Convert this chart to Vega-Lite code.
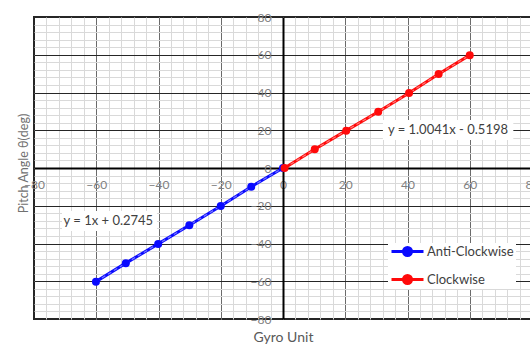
{
  "$schema": "https://vega.github.io/schema/vega-lite/v6.json",
  "width": 498,
  "height": 302,
  "autosize": {"type": "none"},
  "padding": {"left": 34, "top": 17, "right": 0, "bottom": 28},
  "background": "white",
  "config": {
    "font": "Lato",
    "view": {"stroke": "#262626", "strokeWidth": 2}
  },
  "datasets": {
    "pts": [
      {"gyro": -60.1, "pitch": -60.2, "series": "Anti-Clockwise"},
      {"gyro": -50.5, "pitch": -50.4, "series": "Anti-Clockwise"},
      {"gyro": -40.1, "pitch": -40.2, "series": "Anti-Clockwise"},
      {"gyro": -30.1, "pitch": -30.3, "series": "Anti-Clockwise"},
      {"gyro": -20.0, "pitch": -20.1, "series": "Anti-Clockwise"},
      {"gyro": -10.2, "pitch": -9.9, "series": "Anti-Clockwise"},
      {"gyro": 0, "pitch": 0, "series": "Anti-Clockwise"},
      {"gyro": 0.5, "pitch": 0, "series": "Clockwise"},
      {"gyro": 10.2, "pitch": 9.9, "series": "Clockwise"},
      {"gyro": 20.3, "pitch": 19.8, "series": "Clockwise"},
      {"gyro": 30.6, "pitch": 29.8, "series": "Clockwise"},
      {"gyro": 40.5, "pitch": 39.7, "series": "Clockwise"},
      {"gyro": 50.0, "pitch": 49.8, "series": "Clockwise"},
      {"gyro": 60.0, "pitch": 59.8, "series": "Clockwise"}
    ],
    "eq": [
      {"label": "y = 1.0041x - 0.5198", "tx": 53.0, "ty": 20.1, "bx1": 32.1, "bx2": 74.0, "by1": 25.4, "by2": 14.8},
      {"label": "y = 1x + 0.2745", "tx": -56.1, "ty": -28.1, "bx1": -71.0, "bx2": -40.5, "by1": -22.8, "by2": -33.4}
    ]
  },
  "layer": [
    {
      "data": {"name": "pts"},
      "mark": {"type": "point", "opacity": 0},
      "encoding": {
        "x": {"field": "gyro", "type": "quantitative", "scale": {"domain": [-80, 80], "nice": false, "zero": false},
          "axis": {"orient": "bottom", "title": null, "labels": false, "ticks": false, "domain": false, "grid": true,
            "gridColor": "#d9d9d9", "gridWidth": 1,
            "values": [-76,-72,-68,-64,-60,-56,-52,-48,-44,-40,-36,-32,-28,-24,-20,-16,-12,-8,-4,0,4,8,12,16,20,24,28,32,36,40,44,48,52,56,60,64,68,72,76]}},
        "y": {"field": "pitch", "type": "quantitative", "scale": {"domain": [-80, 80], "nice": false, "zero": false},
          "axis": {"orient": "left", "title": null, "labels": false, "ticks": false, "domain": false, "grid": true,
            "gridColor": "#d9d9d9", "gridWidth": 1,
            "values": [-76,-72,-68,-64,-60,-56,-52,-48,-44,-40,-36,-32,-28,-24,-20,-16,-12,-8,-4,0,4,8,12,16,20,24,28,32,36,40,44,48,52,56,60,64,68,72,76]}}
      }
    },
    {
      "data": {"name": "pts"},
      "mark": {"type": "point", "opacity": 0},
      "encoding": {
        "x": {"field": "gyro", "type": "quantitative", "scale": {"domain": [-80, 80], "nice": false, "zero": false},
          "axis": {"orient": "bottom", "title": null, "labels": false, "ticks": false, "domain": false, "grid": true,
            "gridColor": "#6b6b6b", "gridWidth": 1, "values": [-60, -40, -20, 20, 40, 60]}},
        "y": {"field": "pitch", "type": "quantitative", "scale": {"domain": [-80, 80], "nice": false, "zero": false},
          "axis": {"orient": "left", "title": null, "labels": false, "ticks": false, "domain": false, "grid": true,
            "gridColor": "#262626", "gridWidth": 1, "values": [-60, -40, -20, 20, 40, 60]}}
      }
    },
    {
      "data": {"name": "pts"},
      "mark": {"type": "line", "strokeWidth": 3},
      "encoding": {
        "x": {"field": "gyro", "type": "quantitative", "scale": {"domain": [-80, 80], "nice": false, "zero": false},
          "axis": {"orient": "bottom", "offset": -151, "title": "Gyro Unit", "values": [-80, -60, -40, -20, 0, 20, 40, 60, 80],
            "grid": false, "ticks": false, "tickSize": 0, "labelPadding": 11, "labelColor": "#7f7f7f", "labelFontSize": 12,
            "labelOverlap": false, "labelFlush": false, "labelBound": false,
            "domain": true, "domainColor": "#000000", "domainWidth": 2,
            "titleY": 162, "titleFontSize": 14, "titleFontWeight": "normal", "titleColor": "#595959"}},
        "y": {"field": "pitch", "type": "quantitative", "scale": {"domain": [-80, 80], "nice": false, "zero": false},
          "axis": {"orient": "left", "offset": -249, "title": "Pitch Angle θ(deg)", "values": [-80, -60, -40, -20, 0, 20, 40, 60, 80],
            "grid": false, "ticks": false, "tickSize": 0, "labelPadding": 12, "labelColor": "#7f7f7f", "labelFontSize": 12,
            "labelOverlap": false, "labelFlush": false, "labelBound": false,
            "domain": true, "domainColor": "#000000", "domainWidth": 2,
            "titleX": -253, "titleY": 146, "titleFontSize": 12.5, "titleFontWeight": "normal", "titleColor": "#707070"}},
        "color": {"field": "series", "type": "nominal",
          "scale": {"domain": ["Anti-Clockwise", "Clockwise"], "range": ["#0a0aff", "#ff0a0a"]},
          "legend": {"title": null, "orient": "none", "legendX": 354, "legendY": 226,
            "fillColor": "white", "padding": 2, "rowPadding": 14, "clipHeight": 13,
            "symbolType": "M-1,0H1M-0.25,0A0.25,0.25,0,1,1,0.25,0A0.25,0.25,0,1,1,-0.25,0Z",
            "symbolSize": 1024, "symbolStrokeWidth": 3, "labelOffset": 2,
            "labelFontSize": 13, "labelColor": "#404040",
            "encode": {"symbols": {"update": {"fill": {"scale": "color", "field": "value"}, "stroke": {"scale": "color", "field": "value"}, "opacity": {"value": 1}}}}}}
      }
    },
    {
      "data": {"name": "pts"},
      "mark": {"type": "line", "strokeWidth": 1.2, "color": "white", "opacity": 0.45, "strokeDash": [4, 3]},
      "encoding": {
        "x": {"field": "gyro", "type": "quantitative", "axis": null},
        "y": {"field": "pitch", "type": "quantitative", "axis": null},
        "detail": {"field": "series", "type": "nominal"}
      }
    },
    {
      "data": {"name": "pts"},
      "mark": {"type": "point", "filled": true, "size": 64, "opacity": 1},
      "encoding": {
        "x": {"field": "gyro", "type": "quantitative", "axis": null},
        "y": {"field": "pitch", "type": "quantitative", "axis": null},
        "color": {"field": "series", "type": "nominal", "legend": null}
      }
    },
    {
      "data": {"name": "eq"},
      "mark": {"type": "rect", "fill": "white"},
      "encoding": {
        "x": {"field": "bx1", "type": "quantitative", "axis": null},
        "x2": {"field": "bx2"},
        "y": {"field": "by1", "type": "quantitative", "axis": null},
        "y2": {"field": "by2"}
      }
    },
    {
      "data": {"name": "eq"},
      "mark": {"type": "text", "fontSize": 13, "color": "#404040", "align": "center", "baseline": "middle"},
      "encoding": {
        "x": {"field": "tx", "type": "quantitative", "axis": null},
        "y": {"field": "ty", "type": "quantitative", "axis": null},
        "text": {"field": "label"}
      }
    }
  ],
  "resolve": {"axis": {"x": "independent", "y": "independent"}}
}
